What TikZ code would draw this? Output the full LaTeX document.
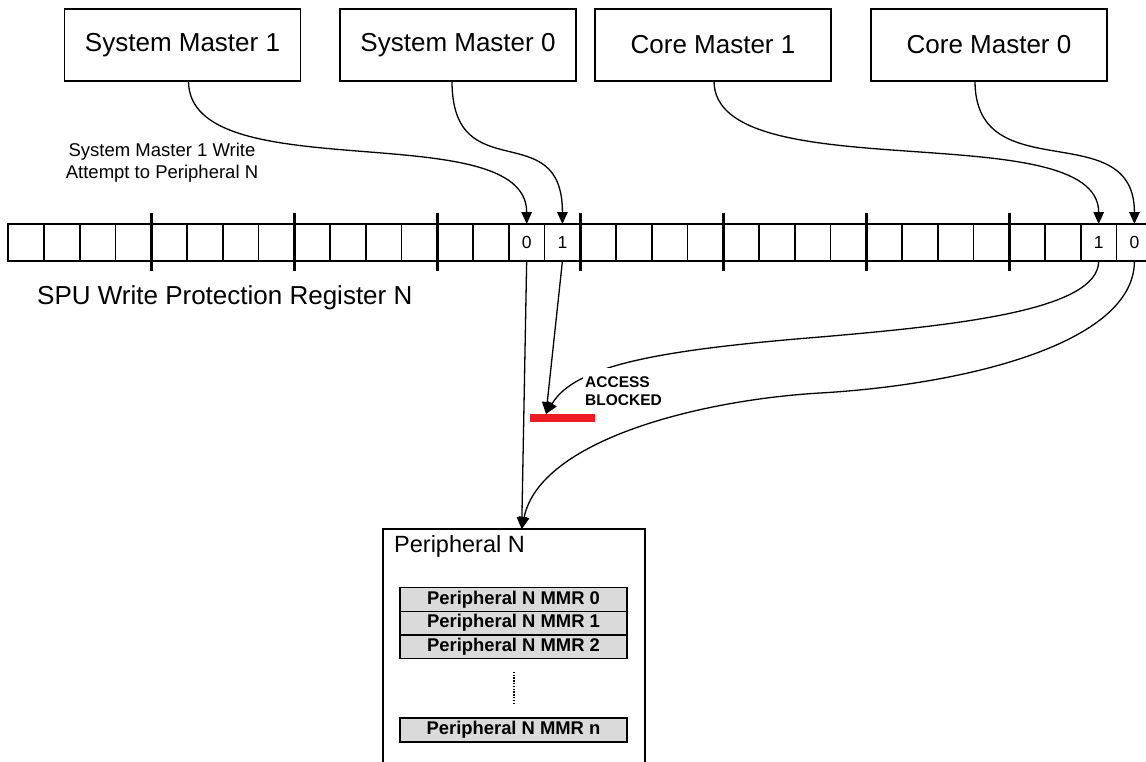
\documentclass[tikz,border=0pt]{standalone}
\usepackage{fontspec}
\setmainfont{Liberation Sans}
\usetikzlibrary{arrows.meta}
\definecolor{blockred}{RGB}{237,28,36}
\definecolor{mmrgray}{RGB}{218,218,218}
\begin{document}
\begin{tikzpicture}[x=1pt,y=-1pt,
  master/.style={draw,line width=1.5pt,minimum width=236pt,minimum height=72pt,inner sep=0pt,outer sep=0pt,font=\fontsize{26}{31}\selectfont},
  cell/.style={draw,line width=1.8pt,minimum width=35.75pt,minimum height=37pt,inner sep=0pt,outer sep=0pt},
  bittext/.style={font=\fontsize{17.5}{20}\selectfont,inner sep=0pt},
  divider/.style={line width=3.6pt},
  conn/.style={line width=1.3pt,-{Triangle[length=12pt,width=10.5pt]}},
  mmr/.style={draw,line width=1.5pt,fill=mmrgray,minimum width=227pt,minimum height=23.6pt,inner sep=0pt,outer sep=0pt,font=\bfseries\fontsize{18.4}{22}\selectfont},
]
\useasboundingbox (0,0) rectangle (1146,761);

% master boxes
\node[master] (sm1) at (182.5,45) {System Master 1};
\node[master] (sm0) at (458,45) {System Master 0};
\node[master] (cm1) at (713,45) {Core Master 1};
\node[master] (cm0) at (989,45) {Core Master 0};

% register cells
\foreach \i in {0,...,31} {
  \node[cell] (c\i) at ({8.3+(\i+0.5)*35.75},242.5) {};
}
\foreach \k in {4,8,...,28} {
  \draw[divider] ([yshift=11pt]c\k.north west) -- ([yshift=-10pt]c\k.south west);
}
\node[bittext] (b14) at (c14) {0};
\node[bittext] (b15) at (c15) {1};
\node[bittext] (b30) at (c30) {1};
\node[bittext] (b31) at (c31) {0};

\node[anchor=base west,inner sep=0pt,font=\fontsize{26}{31}\selectfont] (reglbl) at (37,304.5) {SPU Write Protection Register N};

\node[align=center,inner sep=0pt,font=\fontsize{18.5}{22}\selectfont] (att) at (162,163) {System Master 1 Write\\Attempt to Peripheral N};

% peripheral
\node[draw,line width=1.5pt,anchor=north west,minimum width=262pt,minimum height=250pt,inner sep=0pt,outer sep=0pt] (per) at (383,529) {};
\node[anchor=base west,inner sep=0pt,font=\fontsize{23.5}{28}\selectfont] (pertitle) at (394,552.5) {Peripheral N};
\node[mmr] (mmr0) at (513.5,599.5) {Peripheral N MMR 0};
\node[mmr] (mmr1) at (513.5,623.2) {Peripheral N MMR 1};
\node[mmr] (mmr2) at (513.5,646.9) {Peripheral N MMR 2};
\node[mmr] (mmrn) at (513.5,730) {Peripheral N MMR n};
\draw[line width=2pt,dash pattern=on 1.4pt off 1.4pt] ([yshift=-13pt]mmr2.south) -- ([yshift=15pt]mmrn.north);

% blocked bar
\node[fill=blockred,minimum width=65pt,minimum height=8pt,inner sep=0pt,outer sep=0pt,anchor=north west] (bar) at (530,414) {};
\coordinate (tip) at ([xshift=16pt]bar.north west);
\coordinate (ptip) at ([xshift=7.7pt]per.north);

% connectors from masters
\draw[conn] ([xshift=6pt]sm1.south) .. controls +(0,110) and +(0,-110) .. (c14.north);
\draw[conn] ([xshift=-6pt]sm0.south) .. controls +(0,110) and +(0,-110) .. (c15.north);
\draw[conn] ([xshift=1pt]cm1.south) .. controls +(0,110) and +(0,-110) .. (c30.north);
\draw[conn] ([xshift=-14pt]cm0.south) .. controls +(0,110) and +(0,-110) .. (c31.north);

% connectors from register
\draw[conn] (c30.south) .. controls +(0,49) and (960,325) .. (820,337)
                        .. controls (660,350) and (575,365) .. (tip);
\draw[conn] (c31.south) .. controls +(0,84) and (960,385) .. (820,393)
                        .. controls (700,400) and (540,440) .. (ptip);
\draw[conn] (c14.south) -- (ptip);
\draw[conn] (c15.south) -- (tip);

\node[anchor=north west,align=left,fill=white,inner sep=2pt,font=\bfseries\fontsize{15.5}{18}\selectfont] (acc) at (583,368.1) {\rule{0pt}{17pt}ACCESS\\BLOCKED};
\end{tikzpicture}
\end{document}
